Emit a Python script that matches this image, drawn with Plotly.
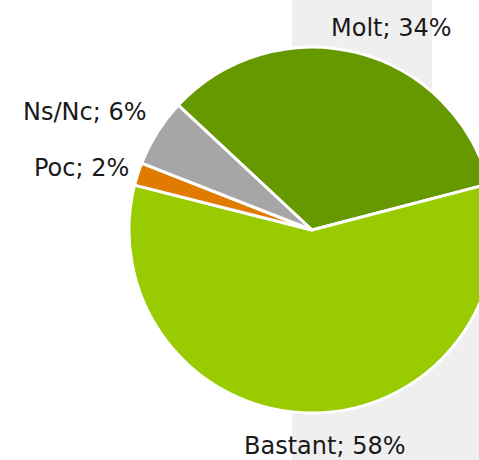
import plotly.graph_objects as go

labels = ["Molt", "Bastant", "Poc", "Ns/Nc"]
values = [34, 58, 2, 6]
colors = ["#669900", "#99CC00", "#E07B00", "#A6A6A6"]

W, H = 520, 460
cx, cy, r = 312, 230, 183

fig = go.Figure(go.Pie(
    labels=labels, values=values, sort=False, direction="clockwise", rotation=313,
    marker=dict(colors=colors, line=dict(color="white", width=3)),
    textinfo="none", hoverinfo="label+percent", showlegend=False,
    domain=dict(x=[(cx - r) / W, (cx + r) / W], y=[(H - cy - r) / H, (H - cy + r) / H]),
))

# background bands
fig.add_shape(type="rect", xref="paper", yref="paper", x0=292 / W, x1=432 / W, y0=0, y1=1,
              fillcolor="#EFEFEF", line_width=0, layer="below")
fig.add_shape(type="rect", xref="paper", yref="paper", x0=432 / W, x1=1, y0=0, y1=(H - 230) / H,
              fillcolor="#EFEFEF", line_width=0, layer="below")

label_pos = {"Molt": (391, 28), "Bastant": (324, 446), "Poc": (81, 168), "Ns/Nc": (84, 112)}
total = sum(values)
for lab, val in zip(labels, values):
    x, y = label_pos[lab]
    fig.add_annotation(x=x / W, y=(H - y) / H, xref="paper", yref="paper",
                       text=f"{lab}; {round(100 * val / total)}%", showarrow=False,
                       xanchor="center", yanchor="middle",
                       font=dict(family="DejaVu Sans", size=24, color="#1a1a1a"))

fig.update_layout(width=W, height=H, margin=dict(l=0, r=0, t=0, b=0),
                  paper_bgcolor="white", plot_bgcolor="white")

fig.write_html("out.html", config={"displayModeBar": False},
               post_script="document.body.style.margin='0';document.body.style.overflow='hidden';")
